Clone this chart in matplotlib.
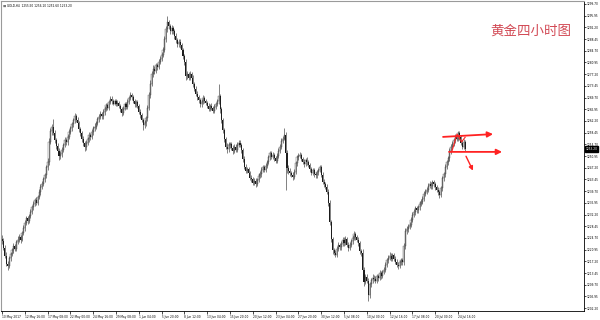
import matplotlib
matplotlib.use('Agg')
import matplotlib.pyplot as plt
import numpy as np
from matplotlib.transforms import blended_transform_factory

plt.rcParams['font.family'] = ['DejaVu Sans']

symbol = "GOLD,H4"
chart_title = "黄金四小时图"
first_open = 1224.5

closes = [
    1223.8, 1221.5, 1219.0, 1216.5, 1215.8, 1218.2,
    1219.5, 1220.8, 1222.0, 1221.3, 1223.4, 1224.2,
    1225.0, 1224.1, 1226.3, 1227.8, 1229.5, 1231.0,
    1230.2, 1231.8, 1233.0, 1234.5, 1235.6, 1236.8,
    1236.0, 1237.9, 1239.4, 1241.2, 1242.0, 1243.5,
    1244.8, 1247.3, 1249.0, 1255.6, 1258.9, 1260.2,
    1258.3, 1256.0, 1254.2, 1252.5, 1250.9, 1251.6,
    1253.0, 1254.6, 1256.2, 1255.4, 1257.0, 1258.8,
    1259.9, 1261.2, 1262.5, 1263.8, 1262.6, 1261.4,
    1259.6, 1258.2, 1256.4, 1255.0, 1253.8, 1255.1,
    1256.3, 1257.8, 1257.0, 1258.6, 1259.8, 1260.4,
    1261.5, 1262.7, 1263.6, 1264.5, 1263.7, 1265.0,
    1266.1, 1267.3, 1266.5, 1268.2, 1269.4, 1268.6,
    1267.8, 1268.6, 1267.5, 1268.1, 1267.0,
    1265.9, 1264.8, 1266.2, 1267.5, 1266.8, 1268.3,
    1269.5, 1270.6, 1269.8, 1268.7, 1267.5, 1268.2,
    1267.0, 1265.2, 1264.0, 1262.6, 1260.8, 1261.5,
    1263.0, 1266.4, 1270.5, 1274.2, 1277.3, 1279.0,
    1278.2, 1280.0, 1279.4, 1281.2, 1282.0, 1283.5,
    1285.0, 1288.4, 1291.6, 1293.8, 1292.5, 1291.0,
    1292.0, 1291.0, 1289.4, 1288.0, 1286.9, 1287.6,
    1286.4, 1284.8, 1283.0, 1281.0, 1276.5, 1277.2,
    1276.0, 1277.3, 1276.1, 1274.0, 1272.6, 1271.0,
    1269.8, 1268.9, 1267.5, 1268.4, 1269.6, 1268.7,
    1268.0, 1267.1, 1266.2, 1267.0, 1266.3, 1265.5,
    1266.8, 1267.6, 1268.5, 1270.2, 1266.0, 1262.4,
    1259.2, 1256.3, 1254.0, 1253.1, 1254.5, 1254.8,
    1253.6, 1252.5, 1254.0, 1253.0, 1254.6, 1255.3,
    1254.6, 1252.8, 1250.0, 1247.5, 1246.2, 1246.8,
    1245.5, 1244.0, 1243.6, 1242.4, 1243.0, 1242.0,
    1243.2, 1244.6, 1245.2, 1246.5, 1247.3, 1246.6,
    1247.8, 1249.0, 1250.5, 1251.8, 1250.7, 1251.4,
    1250.2, 1249.5, 1251.0, 1252.6, 1254.0, 1255.8,
    1256.5, 1257.8, 1252.0, 1247.0, 1246.2, 1245.4,
    1245.0, 1244.2, 1246.0, 1248.6, 1250.5, 1251.0,
    1251.3, 1250.0, 1249.2, 1248.5, 1249.6, 1249.0,
    1248.0, 1246.8, 1245.6, 1246.4, 1245.2, 1244.8,
    1245.8, 1246.5, 1247.3, 1245.0, 1242.8, 1241.9,
    1241.2, 1239.5, 1236.0, 1229.8, 1224.3, 1220.8,
    1220.0, 1219.3, 1221.2, 1222.5, 1221.8,
    1222.9, 1224.2, 1223.0, 1224.4, 1222.6, 1221.5,
    1222.5, 1223.6, 1224.8, 1225.9, 1225.0, 1224.2,
    1223.0, 1220.5, 1219.8, 1214.5, 1210.6, 1212.3,
    1211.0, 1206.5, 1209.8, 1211.2, 1212.0, 1211.6,
    1211.0, 1212.5, 1211.8, 1213.5, 1212.4, 1213.8,
    1214.6, 1216.2, 1217.5, 1218.4, 1219.0, 1218.1,
    1219.2, 1218.0, 1217.1, 1216.2, 1215.8, 1216.9,
    1217.6, 1216.9, 1222.0, 1226.8, 1227.5, 1228.3,
    1229.0, 1230.6, 1232.1, 1233.0, 1234.2, 1233.6,
    1234.5, 1235.6, 1236.3, 1237.2, 1238.8, 1239.6,
    1240.1, 1241.4, 1242.0, 1241.3, 1242.5, 1241.9,
    1241.0, 1240.2, 1239.3, 1238.5, 1240.6, 1243.8,
    1245.2, 1247.6, 1248.9, 1250.3, 1252.5, 1254.0,
    1254.9, 1256.0, 1257.2, 1256.5, 1258.2, 1257.0,
    1255.2, 1254.0, 1255.5, 1253.2,
]

highs = [
    1225.6, 1224.6, 1222.3, 1220.1, 1217.4, 1218.9,
    1220.3, 1221.6, 1223.1, 1222.8, 1224.2, 1225.3,
    1226.0, 1225.7, 1227.1, 1228.9, 1230.4, 1231.8,
    1231.9, 1232.5, 1233.9, 1235.3, 1236.4, 1237.6,
    1237.7, 1238.6, 1240.3, 1242.1, 1243.0, 1244.4,
    1245.6, 1248.1, 1250.2, 1256.8, 1260.1, 1261.3,
    1262.9, 1259.2, 1256.9, 1255.0, 1253.4, 1252.5,
    1253.8, 1255.3, 1257.1, 1256.9, 1257.9, 1259.6,
    1260.7, 1262.0, 1263.3, 1264.9, 1264.5, 1263.4,
    1262.1, 1260.4, 1259.0, 1257.3, 1255.8, 1256.0,
    1257.0, 1258.7, 1258.5, 1259.5, 1260.7, 1261.5,
    1262.3, 1263.5, 1264.4, 1265.4, 1265.2, 1265.9,
    1266.9, 1268.0, 1268.1, 1269.0, 1270.3, 1270.1,
    1269.2, 1269.3, 1269.1, 1268.8, 1268.7,
    1267.6, 1266.7, 1267.0, 1268.4, 1268.2, 1269.1,
    1270.2, 1271.5, 1271.2, 1270.4, 1269.3, 1269.0,
    1268.9, 1267.8, 1266.0, 1264.9, 1263.3, 1262.4,
    1263.8, 1267.2, 1271.6, 1275.3, 1278.2, 1280.1,
    1279.8, 1280.9, 1280.8, 1282.1, 1282.9, 1284.4,
    1285.9, 1289.3, 1292.7, 1295.8, 1294.6, 1293.2,
    1293.1, 1292.8, 1291.7, 1290.3, 1288.8, 1288.5,
    1288.4, 1287.2, 1285.6, 1283.8, 1282.1, 1278.3,
    1278.0, 1278.2, 1278.0, 1276.9, 1274.8, 1273.4,
    1271.7, 1270.5, 1269.6, 1269.1, 1270.4, 1270.3,
    1269.4, 1268.7, 1267.9, 1267.8, 1267.9, 1267.0,
    1267.5, 1268.4, 1269.4, 1274.0, 1271.0, 1266.8,
    1263.0, 1260.1, 1257.2, 1255.0, 1255.4, 1255.6,
    1255.5, 1254.4, 1254.8, 1254.9, 1255.5, 1256.2,
    1256.0, 1255.2, 1253.6, 1250.9, 1248.3, 1247.6,
    1247.5, 1246.3, 1244.9, 1244.4, 1243.8, 1243.9,
    1244.0, 1245.4, 1246.1, 1247.3, 1248.2, 1248.0,
    1248.6, 1249.8, 1251.3, 1252.7, 1252.5, 1252.2,
    1252.1, 1251.0, 1251.8, 1253.4, 1254.9, 1256.6,
    1257.3, 1260.0, 1258.6, 1252.8, 1248.2, 1247.0,
    1246.2, 1245.8, 1246.8, 1249.4, 1251.4, 1252.0,
    1252.2, 1252.0, 1250.8, 1250.0, 1250.4, 1250.5,
    1249.8, 1248.8, 1247.5, 1247.2, 1247.1, 1246.0,
    1246.6, 1247.2, 1248.2, 1248.0, 1245.8, 1243.6,
    1242.8, 1242.0, 1240.3, 1236.8, 1230.6, 1225.1,
    1221.6, 1220.8, 1222.0, 1223.3, 1223.2,
    1223.7, 1225.0, 1225.0, 1225.3, 1225.1, 1223.4,
    1223.3, 1224.4, 1225.6, 1226.8, 1226.6, 1225.8,
    1225.0, 1223.8, 1221.3, 1221.2, 1215.3, 1213.1,
    1213.1, 1211.8, 1210.6, 1212.0, 1213.0, 1212.8,
    1212.4, 1213.3, 1213.2, 1214.3, 1214.2, 1214.6,
    1215.4, 1217.0, 1218.3, 1219.3, 1220.2, 1219.8,
    1220.0, 1220.0, 1218.8, 1217.9, 1217.0, 1217.7,
    1218.4, 1218.3, 1223.2, 1228.0, 1228.4, 1229.1,
    1229.8, 1231.4, 1232.9, 1233.9, 1235.0, 1234.9,
    1235.3, 1236.4, 1237.1, 1238.0, 1239.7, 1240.5,
    1240.9, 1242.2, 1242.9, 1242.8, 1243.3, 1243.2,
    1242.7, 1241.8, 1241.0, 1240.1, 1241.4, 1244.7,
    1246.0, 1248.4, 1249.7, 1251.1, 1253.4, 1254.9,
    1255.7, 1256.8, 1258.0, 1258.0, 1259.0, 1258.9,
    1257.8, 1256.0, 1256.3, 1256.1,
]

lows = [
    1222.9, 1220.7, 1218.2, 1215.6, 1214.3, 1215.1,
    1217.4, 1218.8, 1219.9, 1220.4, 1220.6, 1222.7,
    1223.5, 1223.2, 1223.6, 1225.5, 1227.0, 1228.8,
    1229.1, 1229.6, 1231.0, 1232.4, 1233.8, 1234.9,
    1235.2, 1235.4, 1237.1, 1238.6, 1240.3, 1241.3,
    1242.7, 1244.0, 1246.5, 1248.2, 1254.7, 1257.8,
    1257.6, 1255.2, 1253.3, 1251.4, 1249.6, 1250.1,
    1250.8, 1252.2, 1253.8, 1254.5, 1254.6, 1256.3,
    1258.0, 1259.1, 1260.4, 1261.7, 1261.8, 1260.5,
    1258.8, 1257.3, 1255.5, 1254.1, 1252.6, 1253.0,
    1254.4, 1255.6, 1256.1, 1256.3, 1257.8, 1259.0,
    1259.6, 1260.8, 1261.9, 1262.8, 1262.9, 1262.8,
    1264.2, 1265.4, 1265.7, 1265.8, 1267.5, 1267.8,
    1267.2, 1267.3, 1266.9, 1267.0, 1266.3,
    1265.1, 1263.9, 1264.1, 1265.6, 1266.0, 1266.2,
    1267.7, 1268.8, 1269.0, 1267.9, 1266.7, 1266.8,
    1266.3, 1264.5, 1263.2, 1261.8, 1259.4, 1259.9,
    1260.7, 1262.2, 1265.6, 1269.7, 1273.3, 1276.4,
    1277.4, 1277.6, 1278.6, 1278.8, 1280.4, 1281.3,
    1282.8, 1284.2, 1287.6, 1290.8, 1291.7, 1290.1,
    1290.2, 1290.1, 1288.6, 1287.1, 1285.8, 1286.0,
    1285.6, 1284.0, 1282.1, 1280.2, 1275.2, 1275.8,
    1275.3, 1275.4, 1275.3, 1273.1, 1271.7, 1270.2,
    1269.0, 1268.1, 1266.7, 1266.8, 1267.7, 1267.9,
    1267.2, 1266.4, 1265.4, 1265.5, 1265.6, 1264.7,
    1264.8, 1266.0, 1266.9, 1267.8, 1264.9, 1261.5,
    1258.4, 1255.5, 1253.2, 1252.0, 1252.4, 1253.7,
    1252.9, 1251.7, 1251.8, 1252.2, 1252.3, 1253.9,
    1253.8, 1252.1, 1249.2, 1246.7, 1245.4, 1245.5,
    1244.7, 1243.2, 1242.8, 1241.6, 1241.7, 1241.2,
    1241.3, 1242.5, 1243.8, 1244.4, 1245.8, 1245.9,
    1245.9, 1247.0, 1248.3, 1249.7, 1249.9, 1249.9,
    1249.4, 1248.6, 1248.8, 1250.3, 1251.8, 1253.2,
    1255.0, 1256.0, 1240.0, 1245.5, 1245.3, 1244.6,
    1244.2, 1243.4, 1243.5, 1245.3, 1247.9, 1249.7,
    1250.2, 1249.3, 1248.4, 1247.6, 1247.8, 1248.2,
    1247.3, 1246.0, 1244.8, 1244.9, 1244.4, 1243.9,
    1244.0, 1245.0, 1245.8, 1244.2, 1241.9, 1241.0,
    1240.4, 1238.7, 1235.1, 1228.9, 1223.4, 1219.6,
    1219.2, 1218.5, 1218.6, 1220.5, 1221.0,
    1221.0, 1222.1, 1222.2, 1222.3, 1221.8, 1220.6,
    1220.7, 1221.8, 1222.9, 1224.0, 1224.2, 1223.3,
    1222.2, 1219.6, 1218.9, 1213.6, 1209.2, 1209.8,
    1210.2, 1204.5, 1205.6, 1209.0, 1210.4, 1210.8,
    1210.2, 1210.4, 1211.0, 1211.1, 1211.6, 1211.8,
    1213.0, 1213.9, 1215.4, 1216.7, 1217.6, 1217.3,
    1217.3, 1217.2, 1216.3, 1215.4, 1214.9, 1215.0,
    1216.1, 1216.0, 1216.2, 1221.2, 1226.0, 1226.7,
    1227.5, 1228.2, 1229.8, 1231.3, 1232.2, 1232.8,
    1232.8, 1233.7, 1234.8, 1235.5, 1236.4, 1238.0,
    1238.8, 1239.3, 1240.6, 1240.5, 1240.5, 1241.1,
    1240.2, 1239.4, 1238.5, 1237.4, 1237.7, 1239.8,
    1243.0, 1244.4, 1246.8, 1248.1, 1249.5, 1251.7,
    1253.2, 1254.1, 1255.2, 1255.7, 1255.8, 1256.2,
    1254.4, 1253.2, 1253.3, 1252.6,
]

price_ticks = [1299.70, 1295.95, 1292.20, 1288.45, 1284.70, 1280.95, 1277.20,
               1273.45, 1269.70, 1265.95, 1262.20, 1258.45, 1254.70, 1250.95,
               1247.20, 1243.45, 1239.70, 1235.95, 1232.20, 1228.45, 1224.70,
               1220.95, 1217.20, 1213.45, 1209.70, 1205.95, 1202.20]

date_labels = ["10 May 2017", "12 May 16:00", "17 May 08:00", "22 May 00:00",
               "24 May 16:00", "29 May 08:00", "1 Jun 04:00", "5 Jun 20:00",
               "8 Jun 12:00", "13 Jun 04:00", "15 Jun 20:00", "20 Jun 12:00",
               "23 Jun 04:00", "27 Jun 20:00", "30 Jun 12:00", "5 Jul 08:00",
               "10 Jul 00:00", "12 Jul 16:00", "17 Jul 08:00", "20 Jul 00:00",
               "24 Jul 16:00"]
bars_per_label = 16

c = np.array(closes)
o = np.array([first_open] + closes[:-1])
h = np.maximum(np.array(highs), np.maximum(o, c))
l = np.minimum(np.array(lows), np.minimum(o, c))
x = np.arange(len(c))
up = c >= o

fig = plt.figure(figsize=(6, 3.2), dpi=100)
ax = fig.add_axes([1/600, 9/320, 583/600, 310/320])

ax.vlines(x, l, h, color='#222222', lw=0.4)
ax.bar(x[up], (c - o)[up], bottom=o[up], width=0.75, facecolor='white',
       edgecolor='#555555', lw=0.3)
ax.bar(x[~up], (o - c)[~up], bottom=c[~up], width=0.75, color='#1a1a1a', lw=0)

ax.set_xlim(-0.7, 408.4)
ax.set_ylim(1201.3, 1300.66)

ax.yaxis.tick_right()
ax.set_yticks(price_ticks)
ax.set_yticklabels([f"{v:.2f}" for v in price_ticks])
ax.tick_params(axis='y', length=1.5, width=0.5, pad=0.6, labelsize=2.1,
               colors='black')

xt = np.arange(len(date_labels)) * bars_per_label
ax.set_xticks(xt)
ax.set_xticklabels(date_labels)
ax.tick_params(axis='x', length=2.5, width=0.5, pad=0.3, labelsize=2.1,
               colors='black')
for lbl in ax.get_xticklabels():
    lbl.set_ha('left')

for s in ['top', 'left']:
    ax.spines[s].set_color('#9a9a9a')
    ax.spines[s].set_linewidth(0.8)
for s in ['right', 'bottom']:
    ax.spines[s].set_color('black')
    ax.spines[s].set_linewidth(0.6)

# header
last = len(c) - 1
ax.text(0.011, 0.99, f"{symbol}  {o[last]:.2f} {h[last]:.2f} {l[last]:.2f} {c[last]:.2f}",
        transform=ax.transAxes, fontsize=2.1, va='top', ha='left')
ax.text(0.003, 0.99, "■", transform=ax.transAxes, fontsize=2.5, va='top',
        ha='left', color='#777777')

# current price label
tr = blended_transform_factory(ax.transAxes, ax.transData)
ax.text(1.003, c[last], f"{c[last]:.2f}", transform=tr, fontsize=2.1,
        color='white', va='center', ha='left',
        bbox=dict(boxstyle='square,pad=0.25', fc='black', ec='black'))

# chinese title
ax.text(0.840, 0.905, chart_title, transform=ax.transAxes, fontsize=9.7,
        color='#d24a55', family=['Noto Sans CJK SC', 'DejaVu Sans'],
        va='center', ha='left')

# red hand-drawn arrows
red = '#ff2222'
ap = dict(arrowstyle='-|>', color=red, lw=1.3, mutation_scale=8,
          shrinkA=0, shrinkB=0)
ax.annotate('', xy=(344.6, 1258.0), xytext=(309.5, 1257.1), arrowprops=ap)
ax.annotate('', xy=(350.9, 1252.3), xytext=(313.7, 1252.3), arrowprops=ap)
ax.annotate('', xy=(330.5, 1246.3), xytext=(325.6, 1250.9),
            arrowprops=dict(arrowstyle='-|>', color=red, lw=1.0,
                            mutation_scale=6, shrinkA=0, shrinkB=0))
ax.plot([315.8, 319.3, 322.5, 325.0], [1252.6, 1258.0, 1255.5, 1257.0],
        color=red, lw=0.8)

fig.savefig('out.png', dpi=100)
